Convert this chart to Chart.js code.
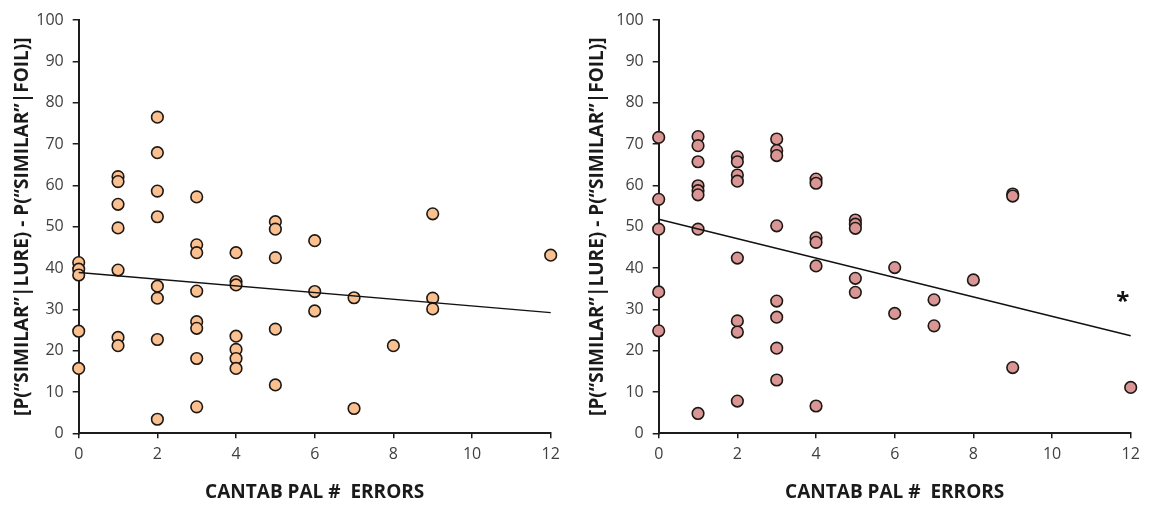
<!DOCTYPE html>
<html>
<head>
<meta charset="utf-8">
<script src="https://cdn.jsdelivr.net/npm/chart.js@4"></script>
<style>
  html, body { margin: 0; padding: 0; background: #fff; }
  #wrap { position: relative; width: 1149px; height: 506px; }
  canvas { position: absolute; top: 0; }
</style>
</head>
<body>
<div id="wrap">
  <canvas id="left" width="575" height="506" style="left:0"></canvas>
  <canvas id="right" width="574" height="506" style="left:575px"></canvas>
</div>
<script>
// Left panel: CANTAB PAL errors vs lure discrimination
const leftErrors = [0,0,0,0,0, 1,1,1,1,1,1,1, 2,2,2,2,2,2,2,2, 3,3,3,3,3,3,3,3, 4,4,4,4,4,4,4, 5,5,5,5,5, 6,6,6, 7,7, 8, 9,9,9, 12];
const leftScores = [41.3,39.7,38.3,24.7,15.7,
  62.1,60.9,55.4,49.7,39.5,23.2,21.2,
  76.5,67.9,58.6,52.4,35.6,32.7,22.7,3.4,
  57.2,45.6,43.7,34.4,27.0,25.4,18.1,6.4,
  43.7,36.7,35.9,23.5,20.3,18.1,15.7,
  51.2,49.4,42.5,25.2,11.7,
  46.6,34.3,29.6,
  32.8,6.0,
  21.2,
  53.1,32.7,30.1,
  43.1];
const leftTrendX = [0, 12];
const leftTrendY = [38.9, 29.2];

// Right panel
const rightErrors = [0,0,0,0,0, 1,1,1,1,1,1,1,1, 2,2,2,2,2,2,2,2, 3,3,3,3,3,3,3,3, 4,4,4,4,4,4, 5,5,5,5,5, 6,6, 7,7, 8, 9,9,9, 12];
const rightScores = [71.6,56.6,49.4,34.2,24.8,
  71.8,69.6,65.7,59.9,58.7,57.7,49.4,4.8,
  66.9,65.7,62.5,61.0,42.4,27.2,24.5,7.8,
  71.2,68.4,67.2,50.2,32.0,28.1,20.6,12.9,
  61.5,60.5,47.3,46.2,40.5,6.6,
  51.6,50.6,49.6,37.5,34.1,
  40.1,29.0,
  32.3,26.0,
  37.1,
  57.9,57.4,15.9,
  11.1];
const rightTrendX = [0, 12];
const rightTrendY = [51.8, 23.6];
const rightStar = { x: 11.8, y: 32.7, text: '*' };

const xTicks = [0, 2, 4, 6, 8, 10, 12];
const yTicks = [0, 10, 20, 30, 40, 50, 60, 70, 80, 90, 100];

const yTitle = '[P(\u201CSIMILAR\u201D|LURE) - P(\u201CSIMILAR\u201D|FOIL)]';
const xTitle = 'CANTAB PAL #  ERRORS';

const axisColor = '#1c1c1c';
const tickColor = '#3f3f3f';

const starPlugin = {
    id: 'star',
    afterDatasetsDraw(chart, args, opts) {
        if (!opts || !opts.mark) return;
        const {ctx, scales} = chart;
        ctx.save();
        ctx.font = 'bold 24px "Open Sans"';
        ctx.fillStyle = '#111';
        ctx.textAlign = 'center';
        ctx.textBaseline = 'middle';
        ctx.fillText(opts.mark.text, scales.x.getPixelForValue(opts.mark.x), scales.y.getPixelForValue(opts.mark.y) + 4);
        ctx.restore();
    }
};

function makeChart(id, errors, scores, trendX, trendY, fill, yWidth, padRight, mark) {
    const pts = errors.map((e, i) => ({ x: e, y: scores[i] }));
    const trend = trendX.map((e, i) => ({ x: e, y: trendY[i] }));
    return new Chart(document.getElementById(id), {
        type: 'scatter',
        data: {
            datasets: [
                {
                    data: pts,
                    backgroundColor: fill,
                    borderColor: '#1e1815',
                    borderWidth: 1.6,
                    pointRadius: 5.8,
                    clip: false,
                    order: 1
                },
                {
                    type: 'line',
                    data: trend,
                    borderColor: '#111',
                    borderWidth: 1.4,
                    pointRadius: 0,
                    fill: false,
                    clip: false,
                    order: 0
                }
            ]
        },
        options: {
            responsive: false,
            animation: false,
            layout: { padding: { left: 0, right: padRight, top: 20, bottom: 0 } },
            plugins: {
                legend: { display: false },
                tooltip: { enabled: false },
                star: { mark: mark }
            },
            scales: {
                x: {
                    type: 'linear',
                    min: 0, max: 12,
                    afterBuildTicks: s => { s.ticks = xTicks.map(v => ({ value: v })); },
                    afterFit: s => { s.height = 72.7; },
                    grid: { drawOnChartArea: false, tickLength: 5, color: axisColor, lineWidth: 1.5 },
                    border: { color: axisColor, width: 2 },
                    ticks: { color: tickColor, font: { family: 'Open Sans', size: 16 }, padding: 7, maxRotation: 0 },
                    title: { display: true, text: xTitle, color: '#1a1a1a', font: { family: 'Open Sans', size: 19, weight: 'bold' }, padding: { top: 0, bottom: 2 } }
                },
                y: {
                    type: 'linear',
                    min: 0, max: 100,
                    afterBuildTicks: s => { s.ticks = yTicks.map(v => ({ value: v })); },
                    afterFit: s => { s.width = yWidth; },
                    grid: { drawOnChartArea: false, tickLength: 6, color: axisColor, lineWidth: 1.5 },
                    border: { color: axisColor, width: 2 },
                    ticks: { color: tickColor, font: { family: 'Open Sans', size: 16 }, padding: 9 },
                    title: { display: true, text: yTitle, color: '#1a1a1a', font: { family: 'Open Sans', size: 19, weight: 'bold' }, padding: { top: 11, bottom: 0 } }
                }
            }
        },
        plugins: [starPlugin]
    });
}

makeChart('left', leftErrors, leftScores, leftTrendX, leftTrendY, '#FAC090', 78.7, 24.3, null);
makeChart('right', rightErrors, rightScores, rightTrendX, rightTrendY, '#D99694', 83.7, 18.3, rightStar);
</script>
</body>
</html>
